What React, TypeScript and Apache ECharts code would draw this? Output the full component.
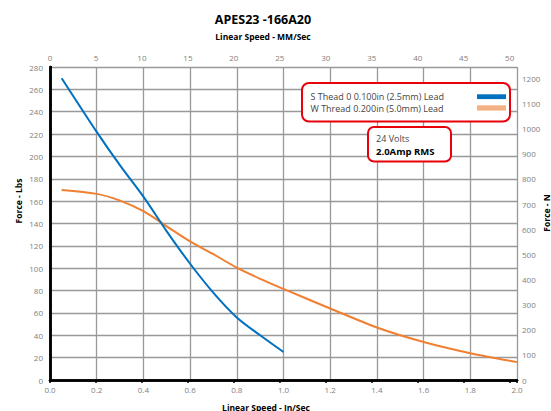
import React, { useEffect, useRef } from "react";
import * as echarts from "echarts";

const titleText = "APES23 -166A20";
const topAxisName = "Linear Speed - MM/Sec";
const bottomAxisName = "Linear Speed - In/Sec";
const leftAxisName = "Force - Lbs";
const rightAxisName = "Force - N";

const seriesNames = ["S Thead 0 0.100in (2.5mm) Lead", "W Thread 0.200in (5.0mm) Lead"];
const infoLines = ["24 Volts", "2.0Amp RMS"];

// in/sec
const sThreadX = [0.05, 0.2, 0.3, 0.4, 0.5, 0.6, 0.7, 0.8, 0.9, 1.0];
// lbs
const sThreadY = [270, 222, 192, 164, 133, 104, 78, 56, 40, 25];

const wThreadX = [0.05, 0.2, 0.3, 0.4, 0.5, 0.6, 0.7, 0.8, 0.9, 1.0, 1.2, 1.4, 1.6, 1.8, 2.0];
const wThreadY = [170, 166.5, 160.5, 151, 137.5, 124, 112.5, 100.5, 90.5, 81.5, 64, 47, 34, 24, 16];

const xMinIn = 0;
const xMaxIn = 2.0;
const xIntervalIn = 0.2;
const yMinLbs = 0;
const yMaxLbs = 280;
const yIntervalLbs = 20;
const mmPerIn = 25.4;
const nPerLbs = 4.448;
const topInterval = 5;
const rightInterval = 100;

const blue = "#0070C0";
const orange = "#F07F30";
const orangeSwatch = "#F4B183";
const red = "#E8000B";
const labelFont = "Open Sans";

export default function App() {
  const ref = useRef<HTMLDivElement>(null);
  useEffect(() => {
    if (!ref.current) return;
    const chart = echarts.init(ref.current, null, { renderer: "svg" });
    const axisLabelStyle = { color: "#808080", fontSize: 8, fontFamily: labelFont };
    const axisLineStyle = { show: true, lineStyle: { color: "#000", width: 2.5 } };
    const option: any = {
      animation: false,
      grid: { left: 50, right: 34, top: 67, bottom: 31, containLabel: false },
      xAxis: [
        {
          type: "value",
          position: "bottom",
          min: xMinIn,
          max: xMaxIn,
          interval: xIntervalIn,
          axisLine: axisLineStyle,
          axisTick: { show: false },
          axisLabel: { ...axisLabelStyle, margin: 5, formatter: (v: number) => v.toFixed(1) },
          splitLine: { show: true, lineStyle: { color: "#999", width: 1.3 } },
        },
        {
          type: "value",
          position: "top",
          min: xMinIn * mmPerIn,
          max: xMaxIn * mmPerIn,
          interval: topInterval,
          axisLine: axisLineStyle,
          axisTick: { show: true, inside: true, length: 3, lineStyle: { color: "#000", width: 1.5 } },
          axisLabel: {
            ...axisLabelStyle,
            margin: 6,
            formatter: (v: number) => (Math.abs(v % topInterval) < 1e-6 ? String(v) : ""),
          },
          splitLine: { show: false },
        },
      ],
      yAxis: [
        {
          type: "value",
          position: "left",
          min: yMinLbs,
          max: yMaxLbs,
          interval: yIntervalLbs,
          axisLine: axisLineStyle,
          axisTick: { show: false },
          axisLabel: { ...axisLabelStyle, margin: 7 },
          splitLine: { show: true, lineStyle: { color: "#999", width: 1.3 } },
        },
        {
          type: "value",
          position: "right",
          min: yMinLbs * nPerLbs,
          max: yMaxLbs * nPerLbs,
          interval: rightInterval,
          axisLine: axisLineStyle,
          axisTick: { show: true, length: 2, lineStyle: { color: "#000", width: 1.5 } },
          axisLabel: {
            ...axisLabelStyle,
            margin: 5,
            formatter: (v: number) => (Math.abs(v % rightInterval) < 1e-6 ? String(v) : ""),
          },
          splitLine: { show: false },
        },
      ],
      series: [
        {
          name: seriesNames[0],
          type: "line",
          xAxisIndex: 0,
          yAxisIndex: 0,
          data: sThreadX.map((x, i) => [x, sThreadY[i]]),
          showSymbol: false,
          smooth: 0.3,
          lineStyle: { color: blue, width: 2 },
          z: 3,
        },
        {
          name: seriesNames[1],
          type: "line",
          xAxisIndex: 0,
          yAxisIndex: 0,
          data: wThreadX.map((x, i) => [x, wThreadY[i]]),
          showSymbol: false,
          smooth: 0.3,
          lineStyle: { color: orange, width: 2 },
          z: 2,
        },
      ],
      graphic: [
        {
          type: "text",
          x: 263,
          y: 19,
          style: {
            text: titleText,
            fontSize: 12.5,
            fontWeight: "bold",
            fontFamily: labelFont,
            fill: "#000",
            align: "center",
            verticalAlign: "middle",
          },
        },
        {
          type: "text",
          x: 263,
          y: 36,
          style: {
            text: topAxisName,
            fontSize: 8.5,
            fontWeight: "bold",
            fontFamily: labelFont,
            fill: "#000",
            align: "center",
            verticalAlign: "middle",
          },
        },
        {
          type: "text",
          x: 266,
          y: 407,
          style: {
            text: bottomAxisName,
            fontSize: 8.5,
            fontWeight: "bold",
            fontFamily: labelFont,
            fill: "#000",
            align: "center",
            verticalAlign: "middle",
          },
        },
        {
          type: "text",
          x: 18,
          y: 201,
          rotation: Math.PI / 2,
          style: {
            text: leftAxisName,
            fontSize: 8.5,
            fontWeight: "bold",
            fontFamily: labelFont,
            fill: "#000",
            align: "center",
            verticalAlign: "middle",
          },
        },
        {
          type: "text",
          x: 546,
          y: 213,
          rotation: Math.PI / 2,
          style: {
            text: rightAxisName,
            fontSize: 8.5,
            fontWeight: "bold",
            fontFamily: labelFont,
            fill: "#000",
            align: "center",
            verticalAlign: "middle",
          },
        },
        {
          type: "rect",
          shape: { x: 302, y: 83, width: 208, height: 38.5, r: 7 },
          style: { fill: "#fff", stroke: red, lineWidth: 2 },
          z: 10,
        },
        {
          type: "text",
          x: 310.5,
          y: 96,
          z: 11,
          style: {
            text: seriesNames[0],
            fontSize: 9,
            fontFamily: labelFont,
            fill: "#444",
            align: "left",
            verticalAlign: "middle",
          },
        },
        {
          type: "text",
          x: 310.5,
          y: 108.5,
          z: 11,
          style: {
            text: seriesNames[1],
            fontSize: 9,
            fontFamily: labelFont,
            fill: "#444",
            align: "left",
            verticalAlign: "middle",
          },
        },
        {
          type: "rect",
          shape: { x: 477, y: 94.3, width: 29, height: 4.8 },
          style: { fill: blue },
          z: 11,
        },
        {
          type: "rect",
          shape: { x: 477, y: 105.3, width: 29, height: 5.3 },
          style: { fill: orangeSwatch },
          z: 11,
        },
        {
          type: "rect",
          shape: { x: 368, y: 127, width: 83, height: 34.5, r: 6 },
          style: { fill: "#fff", stroke: red, lineWidth: 2 },
          z: 10,
        },
        {
          type: "text",
          x: 376,
          y: 138.5,
          z: 11,
          style: {
            text: infoLines[0],
            fontSize: 9,
            fontFamily: labelFont,
            fill: "#444",
            align: "left",
            verticalAlign: "middle",
          },
        },
        {
          type: "text",
          x: 376,
          y: 151,
          z: 11,
          style: {
            text: infoLines[1],
            fontSize: 9.5,
            fontWeight: "bold",
            fontFamily: labelFont,
            fill: "#000",
            align: "left",
            verticalAlign: "middle",
          },
        },
      ],
    };
    chart.setOption(option);
    return () => chart.dispose();
  }, []);
  return (
    <div
      ref={ref}
      style={{ position: "fixed", left: 0, top: 0, width: 551, height: 411, background: "#fff" }}
    />
  );
}
